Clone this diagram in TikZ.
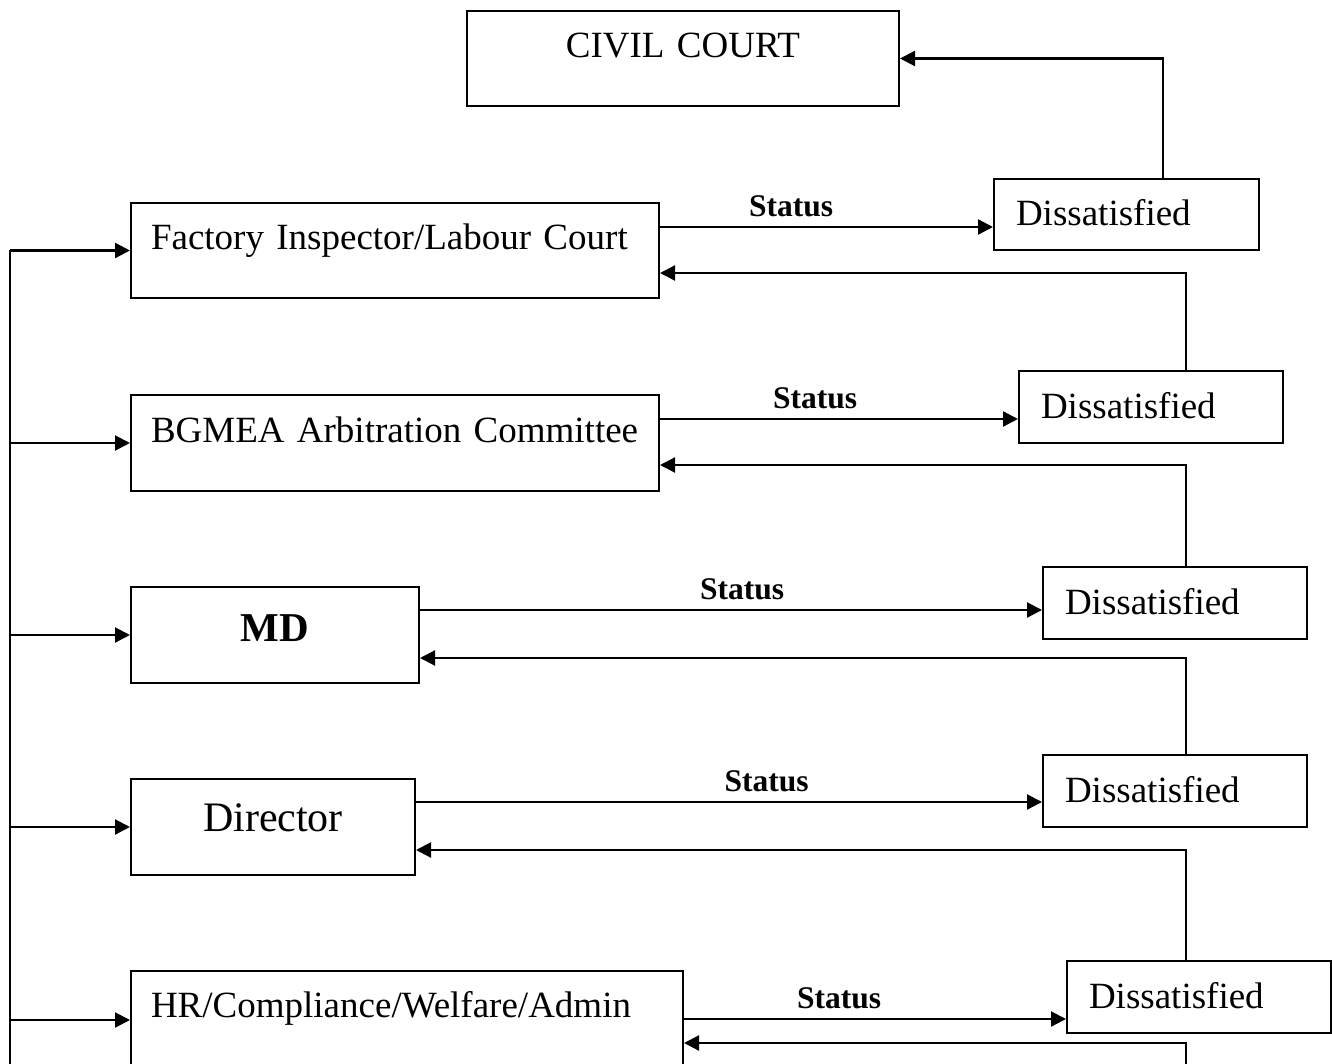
\documentclass[tikz,border=0pt]{standalone}
\usepackage{fontspec}
\setmainfont{Liberation Serif}
\usetikzlibrary{arrows.meta,calc}
\begin{document}
\begin{tikzpicture}[x=1pt,y=-1pt,
  box/.style={draw, line width=2pt, anchor=north west, inner ysep=0pt, inner xsep=20pt,
    font=\fontsize{37}{44}\selectfont, text height=47pt},
  dbox/.style={box, inner xsep=22pt, text width=220pt, align=left, text depth=25pt},
  ln/.style={line width=2.2pt},
  arr/.style={line width=2.2pt, -{Triangle[length=15pt,width=15pt]}},
  st/.style={font=\fontsize{31.5}{36}\selectfont\bfseries, inner sep=0pt, anchor=south, yshift=9pt}]
\useasboundingbox (0,0) rectangle (1332,1064);
\clip (0,0) rectangle (1332,1064);
% boxes
\node[box, text width=392pt, align=center, text depth=48pt] (civil) at (466,10) {CIVIL COURT};
\node[dbox, text width=221pt, text depth=24pt] (d1) at (993,178) {Dissatisfied};
\node[box, text width=488pt, align=left, text depth=48pt] (fi) at (130,202) {Factory Inspector/Labour Court};
\node[dbox] (d2) at (1018,370) {Dissatisfied};
\node[box, text width=488pt, align=left, text depth=49pt] (bg) at (130,394) {BGMEA Arbitration Committee};
\node[dbox] (d3) at (1042,566) {Dissatisfied};
\node[box, text width=248pt, align=center, text height=54pt, text depth=42pt,
      font=\fontsize{41}{48}\selectfont\bfseries] (md) at (130,586) {MD};
\node[dbox] (d4) at (1042,754) {Dissatisfied};
\node[box, text width=244pt, align=center, text height=52pt, text depth=44pt,
      font=\fontsize{42}{50}\selectfont] (dir) at (130,778) {Director};
\node[dbox] (d5) at (1066,960) {Dissatisfied};
\node[box, text width=512pt, align=left, text height=46pt, text depth=52pt] (hr) at (130,970) {HR/Compliance/Welfare/Admin};
% left feeder line
\coordinate (lt) at (10,250);
\coordinate (lb) at (10,1075);
\draw[ln] (lt |- fi.west) -- (lb);
\foreach \n in {fi,bg,md,dir,hr}{
  \draw[arr] (lt |- \n.west) -- (\n.west);
}
% status arrows
\coordinate (s1) at ($(fi.north east)+(0,25)$);
\coordinate (s2) at ($(bg.north east)+(0,25)$);
\coordinate (s3) at ($(md.north east)+(0,24)$);
\coordinate (s4) at ($(dir.north east)+(0,24)$);
\coordinate (s5) at ($(hr.north east)+(0,49)$);
\draw[arr] (s1) -- (s1 -| d1.west) node[st, pos=.394] {Status};
\draw[arr] (s2) -- (s2 -| d2.west) node[st, pos=.433] {Status};
\draw[arr] (s3) -- (s3 -| d3.west) node[st, pos=.518] {Status};
\draw[arr] (s4) -- (s4 -| d4.west) node[st, pos=.56] {Status};
\draw[arr] (s5) -- (s5 -| d5.west) node[st, pos=.406] {Status};
% feedback arrows
\draw[arr] ($(d1.north west)+(170,0)$) |- (civil.east);
\draw[arr] ($(d2.north west)+(168,0)$) |- ($(fi.north east)+(0,71)$);
\draw[arr] ($(d3.north west)+(144,0)$) |- ($(bg.north east)+(0,71)$);
\draw[arr] ($(d4.north west)+(144,0)$) |- ($(md.north east)+(0,72)$);
\draw[arr] ($(d5.north west)+(120,0)$) |- ($(dir.north east)+(0,72)$);
\coordinate (f5) at ($(d5.south west)+(120,45)$);
\draw[arr] (f5) |- ($(hr.north east)+(0,73)$);
\end{tikzpicture}
\end{document}
